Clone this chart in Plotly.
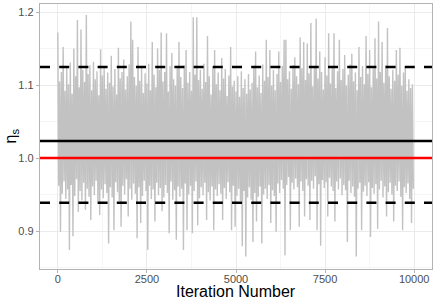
import plotly.graph_objects as go

# Upper envelope values of the trace (one per 50 iterations)
upper = [
    1.172, 1.105, 1.118, 1.152, 1.092, 1.124, 1.101, 1.131, 1.088, 1.150,
    1.112, 1.189, 1.097, 1.176, 1.121, 1.104, 1.196, 1.115, 1.127, 1.093,
    1.132, 1.108, 1.119, 1.086, 1.149, 1.113, 1.126, 1.095, 1.117, 1.103,
    1.140, 1.098, 1.122, 1.087, 1.151, 1.109, 1.118, 1.135, 1.094, 1.112,
    1.128, 1.187, 1.162, 1.111, 1.099, 1.152, 1.106, 1.124, 1.089, 1.116,
    1.102, 1.129, 1.093, 1.159, 1.114, 1.097, 1.150, 1.121, 1.172, 1.105,
    1.118, 1.171, 1.091, 1.126, 1.144, 1.108, 1.099, 1.123, 1.159, 1.111,
    1.096, 1.127, 1.148, 1.103, 1.118, 1.092, 1.193, 1.114, 1.193, 1.107,
    1.121, 1.095, 1.129, 1.104, 1.167, 1.112, 1.087, 1.125, 1.148, 1.101,
    1.117, 1.093, 1.137, 1.109, 1.122, 1.085, 1.113, 1.152, 1.098, 1.106,
    1.091, 1.112, 1.084, 1.119, 1.096, 1.108, 1.088, 1.115, 1.094, 1.103,
    1.124, 1.146, 1.097, 1.113, 1.089, 1.128, 1.106, 1.162, 1.111, 1.148,
    1.099, 1.121, 1.093, 1.115, 1.146, 1.104, 1.126, 1.162, 1.162, 1.108,
    1.119, 1.095, 1.127, 1.138, 1.112, 1.101, 1.165, 1.123, 1.159, 1.107,
    1.157, 1.116, 1.185, 1.098, 1.124, 1.191, 1.109, 1.146, 1.118, 1.094,
    1.138, 1.113, 1.171, 1.102, 1.125, 1.171, 1.096, 1.119, 1.162, 1.107,
    1.122, 1.141, 1.099, 1.114, 1.128, 1.143, 1.105, 1.117, 1.093, 1.152,
    1.111, 1.126, 1.101, 1.167, 1.115, 1.148, 1.097, 1.123, 1.164, 1.109,
    1.187, 1.118, 1.159, 1.103, 1.127, 1.178, 1.112, 1.095, 1.121, 1.106,
    1.148, 1.114, 1.151, 1.099, 1.117, 1.125, 1.092, 1.108, 1.096, 1.101,
]

# Lower envelope values of the trace (one per 50 iterations, offset 25)
lower = [
    0.962, 0.899, 0.951, 0.968, 0.944, 0.957, 0.874, 0.963, 0.893, 0.948,
    0.971, 0.926, 0.955, 0.942, 0.966, 0.929, 0.958, 0.947, 0.915, 0.961,
    0.949, 0.969, 0.940, 0.922, 0.957, 0.945, 0.964, 0.952, 0.883, 0.960,
    0.946, 0.901, 0.967, 0.953, 0.941, 0.906, 0.962, 0.950, 0.971, 0.920,
    0.958, 0.943, 0.965, 0.951, 0.890, 0.960, 0.911, 0.948, 0.969, 0.955,
    0.874, 0.962, 0.944, 0.957, 0.913, 0.966, 0.949, 0.959, 0.927, 0.946,
    0.963, 0.952, 0.897, 0.968, 0.943, 0.956, 0.888, 0.961, 0.947, 0.958,
    0.874, 0.965, 0.901, 0.950, 0.962, 0.897, 0.955, 0.968, 0.908, 0.945,
    0.960, 0.949, 0.966, 0.915, 0.953, 0.942, 0.961, 0.901, 0.957, 0.948,
    0.964, 0.951, 0.915, 0.959, 0.944, 0.967, 0.953, 0.901, 0.962, 0.906,
    0.948, 0.958, 0.941, 0.879, 0.955, 0.865, 0.946, 0.960, 0.943, 0.885,
    0.952, 0.913, 0.947, 0.961, 0.883, 0.950, 0.958, 0.944, 0.963, 0.911,
    0.956, 0.948, 0.899, 0.965, 0.952, 0.970, 0.958, 0.867, 0.963, 0.974,
    0.901, 0.966, 0.957, 0.972, 0.960, 0.906, 0.968, 0.955, 0.920, 0.971,
    0.962, 0.915, 0.969, 0.958, 0.975, 0.901, 0.964, 0.880, 0.970, 0.959,
    0.967, 0.920, 0.973, 0.961, 0.955, 0.913, 0.968, 0.957, 0.972, 0.949,
    0.963, 0.956, 0.885, 0.969, 0.952, 0.961, 0.947, 0.865, 0.958, 0.966,
    0.901, 0.954, 0.962, 0.948, 0.967, 0.892, 0.959, 0.951, 0.964, 0.903,
    0.957, 0.969, 0.946, 0.961, 0.920, 0.953, 0.966, 0.950, 0.913, 0.962,
    0.955, 0.968, 0.947, 0.901, 0.960, 0.952, 0.965, 0.944, 0.911, 0.958,
]

step = 50
posterior_mean = 1.0233
true_value = 1.0
ci_lower = 0.9388
ci_upper = 1.1247

x_ticks = [0, 2500, 5000, 7500, 10000]
y_ticks = [0.9, 1.0, 1.1, 1.2]

iters = []
vals = []
for i, (hi, lo) in enumerate(zip(upper, lower)):
    iters += [i * step, i * step + step // 2]
    vals += [hi, lo]

fig = go.Figure()
fig.add_trace(go.Scatter(
    x=iters, y=vals, mode="lines",
    line=dict(color="#C2C2C2", width=1.4),
    hoverinfo="skip", showlegend=False,
))

def hline(y, color, dash="solid"):
    fig.add_shape(type="line", xref="paper", x0=0, x1=1, yref="y", y0=y, y1=y,
                  line=dict(color=color, width=2.6, dash=dash), layer="above")

hline(ci_upper, "black", "10px,9.2px")
hline(ci_lower, "black", "10px,9.2px")
hline(posterior_mean, "black")
hline(true_value, "#FF0000")

font_family = "Liberation Sans, Arial, sans-serif"

fig.update_layout(
    width=436, height=300,
    margin=dict(l=40, r=4, t=4, b=31, autoexpand=False),
    paper_bgcolor="white", plot_bgcolor="white",
    font=dict(family=font_family, color="#4D4D4D", size=11),
    xaxis=dict(
        range=[-500, 10500], tickvals=x_ticks,
        ticktext=[str(v) for v in x_ticks],
        showgrid=True, gridcolor="#EBEBEB", gridwidth=1,
        minor=dict(dtick=1250, tick0=1250, showgrid=True, gridcolor="#F5F5F5", gridwidth=0.6),
        zeroline=False, showline=True, mirror=True, linecolor="#B3B3B3", linewidth=1.3,
        ticks="outside", ticklen=3, tickcolor="#B3B3B3", tickwidth=1,
        tickfont=dict(size=11, color="#4D4D4D"), automargin=False,
        ticklabelstandoff=-3,
    ),
    yaxis=dict(
        range=[0.848, 1.211], tickvals=y_ticks,
        ticktext=["0.9", "1.0", "1.1", "1.2"],
        showgrid=True, gridcolor="#EBEBEB", gridwidth=1,
        minor=dict(dtick=0.05, tick0=0.85, showgrid=True, gridcolor="#F5F5F5", gridwidth=0.6),
        zeroline=False, showline=True, mirror=True, linecolor="#B3B3B3", linewidth=1.3,
        ticks="outside", ticklen=3, tickcolor="#B3B3B3", tickwidth=1,
        tickfont=dict(size=11, color="#4D4D4D"), automargin=False,
    ),
    annotations=[
        dict(text="Iteration Number", xref="paper", yref="paper", x=0.5, y=0,
             xanchor="center", yanchor="middle", yshift=-22, showarrow=False,
             font=dict(size=16, color="black", family=font_family)),
        dict(text="η<sub>s</sub>", xref="paper", yref="paper", x=0, y=0.5,
             xanchor="center", yanchor="middle", xshift=-29, textangle=-90, showarrow=False,
             font=dict(size=16, color="black", family=font_family)),
    ],
)

fig.write_html("out.html", config={"displayModeBar": False},
               post_script="document.body.style.margin='0';document.body.style.padding='0';")
